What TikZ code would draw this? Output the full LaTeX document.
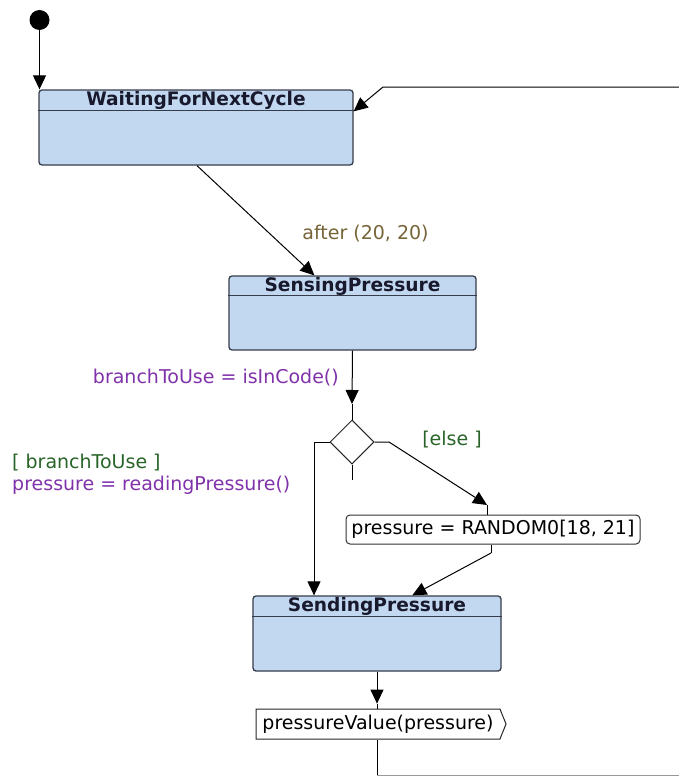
\documentclass[tikz,border=0pt]{standalone}
\usepackage{fontspec}
\setmainfont{DejaVu Sans}
\usetikzlibrary{arrows.meta,shapes.geometric,shapes.symbols,calc}

\definecolor{statefill}{RGB}{193,216,240}
\definecolor{stateline}{RGB}{55,60,75}
\definecolor{titleink}{RGB}{25,25,45}
\definecolor{timeink}{RGB}{118,100,55}
\definecolor{actionink}{RGB}{128,50,170}
\definecolor{guardink}{RGB}{40,100,40}

\begin{document}
\begin{tikzpicture}[x=1pt,y=-1pt,
  font=\fontsize{19}{22}\selectfont,
  statebox/.style={draw=stateline,line width=1.3pt,fill=statefill,
    rounded corners=3pt,minimum width=#1,minimum height=75pt,inner sep=0pt},
  statetitle/.style={font=\fontsize{18.6}{21}\selectfont\bfseries,
    text=titleink,inner sep=0pt},
  headline/.style={draw=stateline,line width=1.1pt},
  wire/.style={draw=black,line width=1pt},
  flow/.style={wire,-{Triangle[length=14pt,width=13pt]}},
  lbl/.style={inner sep=0pt},
  actbox/.style={draw=black!80,line width=1pt,fill=white,rounded corners=4pt,
    minimum width=294pt,minimum height=29pt,inner sep=0pt},
]
\useasboundingbox (0,0) rectangle (679,776);

% initial pseudo-state
\node[circle,fill=black,minimum size=20pt,inner sep=0pt] (init) at (39.5,20) {};

% states
\node[statebox=314pt] (wait) at (196,127.5) {};
\draw[headline] ($(wait.north west)+(0,21)$) -- ($(wait.north east)+(0,21)$);
\node[statetitle] (waitT) at (196,100.5) {WaitingForNextCycle};

\node[statebox=247pt,minimum height=74pt] (sens) at (352.5,313) {};
\draw[headline] ($(sens.north west)+(0,20)$) -- ($(sens.north east)+(0,20)$);
\node[statetitle] (sensT) at (352.5,286) {SensingPressure};

\node[statebox=248pt] (send) at (377,633.5) {};
\draw[headline] ($(send.north west)+(0,21)$) -- ($(send.north east)+(0,21)$);
\node[statetitle] (sendT) at (377,606.5) {SendingPressure};

% choice point
\node[diamond,draw=black!85,line width=1pt,fill=white,minimum width=44pt,
  minimum height=44pt,inner sep=0pt] (dec) at (352,442) {};

% action box
\node[actbox] (rand) at (493,529.5) {pressure = RANDOM0[18, 21]};

% send signal
\node[signal,signal to=east,signal from=nowhere,signal pointer angle=136,
  draw=black!85,line width=1pt,fill=white,minimum width=250pt,
  minimum height=30pt,inner sep=0pt] (sig) at (378,724) {pressureValue(pressure)};

% helper coordinates
\coordinate (loopIn) at (679,87);
\coordinate (loopBend) at (383,87);
\coordinate (decTip) at (352,404);
\coordinate (stubEnd) at (352,480);
\coordinate (leftBend) at (314,442);
\coordinate (rightBend) at (389,442);
\coordinate (randTip) at (487,505);
\coordinate (randOut) at (491,553);
\coordinate (exitB) at (377,775.6);
\coordinate (exitR) at (679,775.6);

% transitions
\draw[flow] (init.south) -- (init.south |- wait.north);
\draw[flow] (loopIn) -- (loopBend) -- ($(wait.north east)+(0,22)$);
\draw[flow] ($(wait.south)+(1,0)$) -- ($(sens.north west)+(86,0)$);
\draw[flow] (sens.south) -- (decTip);
\draw[wire] (decTip) -- (dec.north);
\draw[wire] (dec.south) -- (stubEnd);
\draw[flow] (dec.west) -- (leftBend) -- (leftBend |- send.north);
\draw[flow] (dec.east) -- (rightBend) -- (randTip);
\draw[wire] (randTip) -- (randTip |- rand.north);
\draw[wire] (randOut |- rand.south) -- (randOut);
\draw[flow] (randOut) -- ($(send.north west)+(160,0)$);
\draw[flow] (send.south) -- ($(send.south)+(0,32)$);
\draw[wire] ($(send.south)+(0,32)$) -- (send.south |- sig.north);
\draw[wire] (send.south |- sig.south) -- (exitB);
\draw[wire,draw=black!40] (exitB) -- (exitR);

% labels
\node[lbl,text=timeink] (afterL) at (365.5,234) {after (20, 20)};
\node[lbl,text=actionink,anchor=east] (entryL) at (339,378) {branchToUse = isInCode()};
\node[lbl,text=guardink] (elseL) at (452,440) {[else ]};
\node[lbl,text=guardink,anchor=west] (guardL) at (12,463) {[ branchToUse ]};
\node[lbl,text=actionink,anchor=west] (readL) at (12,485) {pressure = readingPressure()};
\end{tikzpicture}
\end{document}
